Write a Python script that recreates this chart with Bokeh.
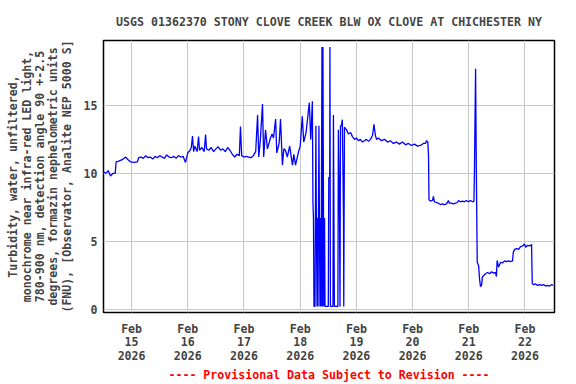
import pandas as pd
from bokeh.plotting import figure
from bokeh.models import FixedTicker, Range1d
from bokeh.embed import file_html
from bokeh.resources import INLINE

title = "USGS 01362370 STONY CLOVE CREEK BLW OX CLOVE AT CHICHESTER NY"
y_label_lines = [
    "Turbidity, water, unfiltered,",
    "monochrome near infra-red LED light,",
    "780-900 nm, detection angle 90 +-2.5",
    "degrees, formazin nephelometric units",
    "(FNU), [Observator, Analite NEP 5000 S]",
]
footer = "---- Provisional Data Subject to Revision ----"

start = "2026-02-14 00:00"
# hours after start
hours = [
    12, 13, 14, 15, 16, 17, 17.4, 18.5, 20, 21.4, 22.5, 23.5, 25, 26.5, 27,
    28, 29, 30, 31, 32, 33, 34, 35, 36, 37, 38, 39, 40, 41, 42, 43, 44, 45, 46, 47, 48, 49, 49.5,
    50, 50.5, 51, 52, 52.6, 53, 54, 55, 55.6, 56, 57, 58, 59, 60, 61, 62, 63, 64, 65, 66, 67, 67.5, 68, 69, 70, 70.5,
    71, 72, 73, 74, 75, 76, 77, 77.8, 78.3, 79, 79.9, 80.4, 81.2, 82, 83.3, 84, 84.6, 85.5, 86, 87, 87.6,
    88.4, 89, 89.7, 90.5, 91.5, 92.7, 93.3, 94, 95.3, 96, 96.9, 97.5, 98.5, 99.9, 100.5, 101.2,
    101.45, 101.67, 101.88, 102.3, 102.5, 102.7, 102.9, 103.2, 103.4, 103.6, 103.8, 104.0, 104.2, 104.45,
    104.7, 104.9, 105.1, 105.3, 105.5, 105.7, 105.9, 106.1, 106.4, 106.6, 108.0, 108.2, 108.6, 108.7, 108.9,
    110.0, 110.2, 110.4, 110.6, 112.1, 112.3, 112.8, 113.0, 113.2, 113.6, 114.0, 114.5, 114.6, 114.9, 115.3,
    115.8, 116.6, 117.5, 118.3, 119.2, 120.0, 120.9, 121.7, 122.6, 123.4, 124.3, 125.2, 126.0, 126.9, 127.5,
    128.1, 128.6, 129.4, 130.7, 132.0, 133.3, 134.5, 135.8, 137.1, 138.4, 139.7, 141.0, 142.2, 143.5, 144.8,
    146.1, 147.4, 148.6, 149.5, 149.9, 150.5, 150.8, 151.0,
    151.6, 152.5, 152.9, 153.3, 154.2, 155.0, 155.9, 156.8, 157.6, 158.5, 159.3, 159.7, 160.6, 161.4, 162.3,
    163.1, 163.6, 164.4, 165.3, 166.1, 167.0, 167.9, 168.7, 169.6, 170.2,
    170.4, 170.9, 171.2, 171.6, 172.2, 172.6, 173.0, 173.5, 173.8, 174.3,
    175.1, 176.0, 176.9, 177.7, 178.6, 179.4, 179.8, 180.1, 180.7, 181.6,
    182.4, 183.3, 184.1, 185.0, 185.8, 186.7, 187.0, 187.6, 188.4, 189.3,
    190.1, 191.0, 191.8, 192.3, 193.1, 194.0, 194.8, 195.1,
    195.7, 196.5, 197.4, 198.2, 199.1, 199.9, 200.8, 201.6, 202.5, 203.3, 204.0,
]
fnu = [
    10.1, 10.0, 10.2, 9.8, 10.0, 10.0, 10.85, 10.9, 11.0, 11.2, 11.0, 10.85, 10.8, 10.85, 11.15,
    11.2, 11.1, 11.3, 11.15, 11.2, 11.05, 11.25, 11.15, 11.3, 11.2, 11.1, 11.35, 11.2, 11.15, 11.25, 11.1, 11.3, 11.2, 11.25, 10.8, 11.5, 11.7, 11.9,
    12.75, 11.6, 12.0, 11.6, 12.7, 11.7, 11.9, 11.6, 12.85, 11.8, 11.7, 11.9, 11.6, 11.8, 11.95, 11.7, 11.8, 11.6, 11.9, 11.7, 11.4, 11.3, 11.2, 11.4, 11.3, 13.45,
    11.3, 11.2, 11.25, 11.2, 11.15, 11.3, 11.6, 14.3, 11.2, 12.5, 15.1, 11.2, 13.2, 11.8, 12.6, 12.9, 12.6, 14.0, 11.5, 12.2, 14.0,
    10.6, 11.8, 11.7, 11.2, 12.0, 10.6, 11.4, 10.6, 11.6, 12.0, 14.2, 12.3, 13.0, 15.2, 12.5, 15.3,
    7.8, 6.7, 0.2, 0.2, 6.7, 13.5, 6.7, 0.2, 6.7, 0.2, 6.7, 13.5, 6.7, 0.2,
    6.7, 0.2, 9.7, 19.3, 0.2, 19.3, 9.7, 0.2, 6.7, 0.2, 0.2, 9.7, 9.7, 19.3, 0.2,
    0.2, 14.3, 7.2, 0.2, 0.2, 13.2, 6.6, 0.2, 13.5, 13.5, 13.95, 6.6, 0.2, 13.4, 13.3,
    13.2, 12.9, 13.0, 12.7, 12.5, 12.6, 12.4, 12.5, 12.3, 12.4, 12.5, 12.35, 12.5, 12.8, 13.6,
    12.8, 12.5, 12.6, 12.4, 12.5, 12.3, 12.4, 12.2, 12.3, 12.15, 12.3, 12.1, 12.2, 12.05, 12.15,
    12.0, 12.05, 12.2, 12.2, 12.4, 12.3, 11.3, 8.05,
    7.95, 8.0, 8.3, 7.9, 7.85, 7.8, 7.7, 7.75, 7.7, 7.75, 8.0, 7.8, 7.8, 7.75, 7.8,
    7.85, 8.0, 7.9, 7.95, 7.9, 8.0, 7.9, 8.0, 7.9, 7.95,
    10.0, 17.7, 10.6, 3.45, 3.2, 2.2, 1.65, 1.8, 2.37, 2.45,
    2.6, 2.7, 2.6, 2.75, 2.65, 2.7, 2.4, 3.58, 3.1, 3.45,
    3.4, 3.55, 3.5, 3.55, 3.5, 3.55, 4.18, 4.4, 4.45, 4.4,
    4.6, 4.65, 4.8, 4.55, 4.7, 4.65, 4.75, 1.88,
    1.8, 1.85, 1.75, 1.8, 1.75, 1.8, 1.7, 1.75, 1.7, 1.8, 1.75,
]

tick_days = ["2026-02-15", "2026-02-16", "2026-02-17", "2026-02-18",
             "2026-02-19", "2026-02-20", "2026-02-21", "2026-02-22"]
tick_labels = ["Feb\n15\n2026", "Feb\n16\n2026", "Feb\n17\n2026", "Feb\n18\n2026",
               "Feb\n19\n2026", "Feb\n20\n2026", "Feb\n21\n2026", "Feb\n22\n2026"]
y_ticks = [0, 5, 10, 15]
x_start, x_end = "2026-02-14 12:00", "2026-02-22 12:36"
y_start, y_end = -0.25, 19.78

times = pd.Timestamp(start) + pd.to_timedelta(hours, unit="h")
tick_ms = [int(pd.Timestamp(d).value // 10**6) for d in tick_days]

FONT = "DejaVu Sans Mono"
FS = "11.6px"

p = figure(width=576, height=384, x_axis_type="datetime", output_backend="svg",
           toolbar_location=None,
           x_range=Range1d(pd.Timestamp(x_start), pd.Timestamp(x_end)),
           y_range=Range1d(y_start, y_end),
           min_border_left=103, min_border_right=22, min_border_top=0, min_border_bottom=68)

p.line(times, fnu, line_color="#0000ff", line_width=1.3)

p.title.text = title
p.title.align = "center"
p.title.text_font = FONT
p.title.text_font_style = "bold"
p.title.text_font_size = FS
p.title.standoff = 23.5

p.outline_line_color = "black"
p.outline_line_width = 1.5
p.background_fill_color = "white"
p.border_fill_color = "white"

xa = p.xaxis[0]
xa.ticker = FixedTicker(ticks=tick_ms)
xa.major_label_overrides = dict(zip(tick_ms, tick_labels))
xa.major_label_text_font = FONT
xa.major_label_text_font_style = "bold"
xa.major_label_text_font_size = FS
xa.major_label_text_line_height = 0.97
xa.major_label_standoff = 9
xa.major_tick_line_color = None
xa.major_tick_out = 0
xa.minor_tick_line_color = None
xa.axis_line_color = None
xa.axis_label = footer
xa.axis_label_text_font = FONT
xa.axis_label_text_font_style = "bold"
xa.axis_label_text_font_size = FS
xa.axis_label_text_color = "#ff0000"
xa.axis_label_standoff = 2

ya = p.yaxis[0]
ya.ticker = FixedTicker(ticks=y_ticks)
ya.major_label_text_font = FONT
ya.major_label_text_font_style = "bold"
ya.major_label_text_font_size = FS
ya.major_label_standoff = 6
ya.major_tick_line_color = None
ya.major_tick_out = 0
ya.minor_tick_line_color = None
ya.axis_line_color = None
ya.axis_label = "\n".join(y_label_lines)
ya.axis_label_text_font = FONT
ya.axis_label_text_font_style = "bold"
ya.axis_label_text_font_size = FS
ya.axis_label_text_line_height = 0.95
ya.axis_label_standoff = 7

p.xgrid.ticker = FixedTicker(ticks=tick_ms)
p.ygrid.ticker = FixedTicker(ticks=y_ticks)
p.xgrid.grid_line_color = "#c8c8c8"
p.ygrid.grid_line_color = "#c8c8c8"
p.xgrid.grid_line_width = 1
p.ygrid.grid_line_width = 1

open("out.html", "w").write(file_html(p, INLINE))
